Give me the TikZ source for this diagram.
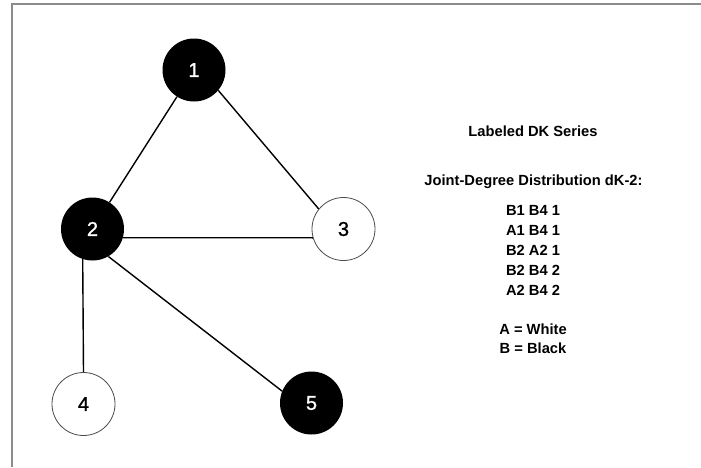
\documentclass[tikz,border=0pt]{standalone}
\usepackage{fontspec}
\setmainfont{Liberation Sans}
\newfontfamily\numfont[FakeBold=1.2]{Liberation Sans}
\begin{document}
\begin{tikzpicture}[x=1pt,y=-1pt,
  vtx/.style={circle,minimum size=63pt,inner sep=0pt,font=\numfont\fontsize{20}{20}\selectfont},
  blk/.style={vtx,fill=black,text=white},
  wht/.style={vtx,draw=black!70,line width=0.8pt,fill=white},
  edge/.style={line width=1.4pt},
  txt/.style={font=\fontsize{14.7}{14.7}\selectfont\bfseries,inner sep=0pt,anchor=center}]
\useasboundingbox (0,0) rectangle (701,467);
\draw[black!45,line width=1.6pt] (701,4) -- (12,4) -- (12,467);
\node[blk] (n1) at (194,70) {1};
\node[blk] (n2) at (92.5,229) {2};
\node[wht] (n3) at (343.5,229) {3};
\node[wht] (n4) at (83.5,404) {4};
\node[blk] (n5) at (311.5,403) {5};
\draw[edge] (n1) -- (n2);
\draw[edge] (n1.-40) -- (n3.141);
\draw[edge] (n2.-16) -- (n3.196);
\draw[edge] (n2.-108) -- (n4.90);
\draw[edge] (n2.-60) -- (n5.158);
\node[txt] (t1) at (533,131) {Labeled DK Series};
\node[txt] (t2) at (533.5,182) {Joint-Degree Distribution dK-2:};
\node[txt] (r1) at (533,210) {B1 B4 1};
\node[txt] (r2) at (533,230) {A1 B4 1};
\node[txt] (r3) at (533,250) {B2 A2 1};
\node[txt] (r4) at (533,270) {B2 B4 2};
\node[txt] (r5) at (533,290) {A2 B4 2};
\node[txt] (k1) at (533,329) {A = White};
\node[txt] (k2) at (533,348.5) {B = Black};
\end{tikzpicture}
\end{document}
